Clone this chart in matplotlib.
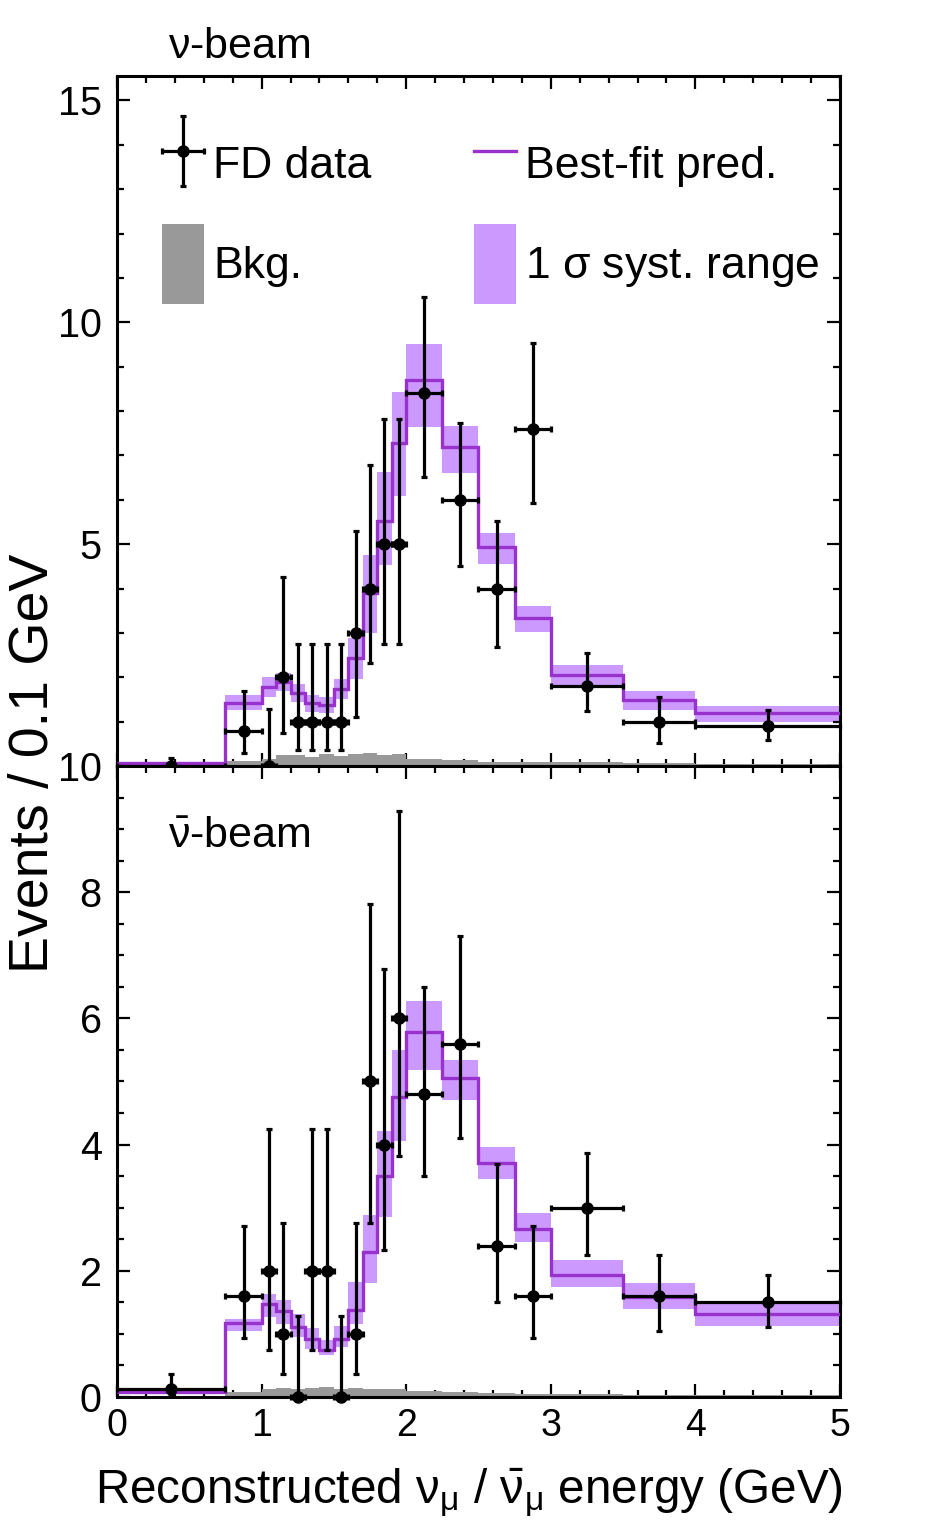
"""Far-detector reconstructed energy spectra for the nu and antinu beams."""

import matplotlib

matplotlib.use("Agg")
import matplotlib.pyplot as plt
import numpy as np
from matplotlib.legend_handler import HandlerErrorbar
from matplotlib.patches import Patch
from matplotlib.lines import Line2D
from matplotlib.ticker import MultipleLocator


plt.rcParams["font.family"] = ["Liberation Sans", "DejaVu Sans"]
plt.rcParams["mathtext.fontset"] = "custom"
plt.rcParams["mathtext.rm"] = "Liberation Sans"
plt.rcParams["mathtext.it"] = "Liberation Sans:italic"
plt.rcParams["mathtext.bf"] = "Liberation Sans:bold"

PRED_COLOR = "#9932CC"
BAND_COLOR = "#CC99FF"
BKG_COLOR = "#999999"

# bin edges (GeV)
edges = [0.0, 0.75, 1.0, 1.1, 1.2, 1.3, 1.4, 1.5, 1.6, 1.7, 1.8, 1.9, 2.0,
         2.25, 2.5, 2.75, 3.0, 3.5, 4.0, 5.0]

# nu-beam (events / 0.1 GeV)
nu_data = [0.0, 0.8, 0.0, 2.0, 1.0, 1.0, 1.0, 1.0, 3.0, 4.0, 5.0, 5.0, 8.4,
           6.0, 4.0, 7.6, 1.8, 1.0, 0.9]
nu_data_lo = [0.0, 0.30, 0.0, 0.74, 0.37, 0.37, 0.37, 0.37, 1.10, 2.33, 2.75,
              2.75, 6.51, 4.51, 2.69, 5.92, 1.24, 0.51, 0.59]
nu_data_hi = [0.17, 1.70, 1.29, 4.25, 2.75, 2.75, 2.75, 2.75, 5.30, 6.78, 7.81,
              7.81, 10.56, 7.74, 5.52, 9.54, 2.54, 1.55, 1.26]
nu_pred = [0.06, 1.43, 1.77, 1.90, 1.65, 1.41, 1.37, 1.73, 2.43, 3.89, 5.52,
           7.29, 8.69, 7.18, 4.94, 3.33, 2.05, 1.49, 1.19]
nu_band_lo = [0.03, 1.26, 1.55, 1.68, 1.45, 1.22, 1.20, 1.52, 1.95, 3.00, 4.53,
              6.09, 7.64, 6.61, 4.56, 3.01, 1.80, 1.26, 1.00]
nu_band_hi = [0.08, 1.60, 2.00, 2.10, 1.85, 1.60, 1.55, 1.95, 2.88, 4.75, 6.63,
              8.43, 9.50, 7.66, 5.26, 3.60, 2.27, 1.69, 1.35]
nu_bkg = [0.0, 0.12, 0.15, 0.24, 0.25, 0.21, 0.27, 0.22, 0.28, 0.30, 0.24,
          0.26, 0.16, 0.13, 0.10, 0.09, 0.08, 0.06, 0.05]

# antinu-beam (events / 0.1 GeV)
anu_data = [0.13, 1.6, 2.0, 1.0, 0.0, 2.0, 2.0, 0.0, 1.0, 5.0, 4.0, 6.0, 4.8,
            5.6, 2.4, 1.6, 3.0, 1.6, 1.5]
anu_data_lo = [0.05, 0.94, 0.74, 0.37, 0.0, 0.74, 0.74, 0.0, 0.37, 2.75, 2.33,
               3.82, 3.51, 4.10, 1.51, 0.94, 2.25, 1.04, 1.11]
anu_data_hi = [0.37, 2.71, 4.25, 2.75, 1.29, 4.25, 4.25, 1.29, 2.75, 7.81, 6.78,
               9.28, 6.49, 7.31, 3.70, 2.71, 3.86, 2.25, 1.93]
anu_pred = [0.08, 1.17, 1.48, 1.36, 1.11, 0.92, 0.75, 0.92, 1.38, 2.30, 3.50,
            4.76, 5.78, 5.05, 3.71, 2.67, 1.94, 1.58, 1.31]
anu_band_lo = [0.04, 1.04, 1.27, 1.15, 0.95, 0.76, 0.67, 0.80, 1.15, 1.80, 2.85,
               4.05, 5.18, 4.71, 3.45, 2.46, 1.75, 1.39, 1.13]
anu_band_hi = [0.12, 1.23, 1.64, 1.53, 1.32, 1.09, 0.91, 1.13, 1.82, 2.88, 4.21,
               5.50, 6.28, 5.34, 3.96, 2.91, 2.17, 1.81, 1.49]
anu_bkg = [0.0, 0.08, 0.13, 0.14, 0.13, 0.15, 0.16, 0.12, 0.14, 0.12, 0.13,
           0.12, 0.10, 0.08, 0.06, 0.05, 0.04, 0.03, 0.03]


def draw_panel(ax, data, data_lo, data_hi, pred, band_lo, band_hi, bkg):
    e = np.asarray(edges)
    centers = 0.5 * (e[:-1] + e[1:])
    half = 0.5 * np.diff(e)
    data = np.asarray(data)
    lo = np.asarray(band_lo)
    hi = np.asarray(band_hi)

    ax.bar(e[:-1], hi - lo, width=np.diff(e), bottom=lo, align="edge",
           color=BAND_COLOR, linewidth=0, zorder=1)
    ax.stairs(bkg, e, fill=True, color=BKG_COLOR, linewidth=0, zorder=2)
    ax.stairs(pred, e, color=PRED_COLOR, linewidth=2.4, baseline=None, zorder=3)
    yerr = [data - np.asarray(data_lo), np.asarray(data_hi) - data]
    eb = ax.errorbar(centers, data, xerr=half, yerr=yerr, fmt="o", color="black",
                     ms=8, elinewidth=2.3, capsize=2.5, capthick=2.3,
                     zorder=5, clip_on=False)
    for artist in eb.lines[1] + eb.lines[2]:
        artist.set_clip_on(False)

    ax.set_xlim(0, 5)
    ax.xaxis.set_major_locator(MultipleLocator(1))
    ax.xaxis.set_minor_locator(MultipleLocator(0.2))
    ax.tick_params(which="both", direction="in", top=True, right=True, width=1.6)
    ax.tick_params(which="major", length=9.5)
    ax.tick_params(which="minor", length=5)
    ax.tick_params(axis="y", pad=11, labelsize=28.5)
    ax.tick_params(axis="x", pad=8, labelsize=27)
    for spine in ax.spines.values():
        spine.set_linewidth(2.2)
    return eb


def main():
    fig = plt.figure(figsize=(9.36, 15.36), dpi=100)
    ax_top = fig.add_axes([0.125, 0.5013, 0.7724, 0.4492])
    ax_bot = fig.add_axes([0.125, 0.0905, 0.7724, 0.4108])

    eb = draw_panel(ax_top, nu_data, nu_data_lo, nu_data_hi, nu_pred,
                    nu_band_lo, nu_band_hi, nu_bkg)
    draw_panel(ax_bot, anu_data, anu_data_lo, anu_data_hi, anu_pred,
               anu_band_lo, anu_band_hi, anu_bkg)

    ax_top.set_ylim(0, 15.55)
    ax_top.yaxis.set_major_locator(MultipleLocator(5))
    ax_top.yaxis.set_minor_locator(MultipleLocator(1))
    ax_top.set_yticks([0, 5, 10, 15], ["", "5", "10", "15"])
    ax_top.tick_params(axis="x", labelbottom=False)

    ax_bot.set_ylim(0, 10)
    ax_bot.yaxis.set_major_locator(MultipleLocator(2))
    ax_bot.yaxis.set_minor_locator(MultipleLocator(0.5))

    ax_top.text(0.0705, 1.026, r"$\mathregular{\nu}$-beam", transform=ax_top.transAxes,
                fontsize=31, va="baseline", ha="left")
    ax_bot.text(0.0705, 0.870, r"$\mathregular{\bar{\nu}}$-beam", transform=ax_bot.transAxes,
                fontsize=31, va="baseline", ha="left")

    handles = [
        eb,
        Line2D([], [], color=PRED_COLOR, linewidth=2.4),
        Patch(facecolor=BKG_COLOR, linewidth=0),
        Patch(facecolor=BAND_COLOR, linewidth=0),
    ]
    labels = ["FD data", "Best-fit pred.", "Bkg.", r"1 $\mathregular{\sigma}$ syst. range"]
    # legend fills column by column, so reorder to get FD/Best-fit on the first row
    order = [0, 2, 1, 3]
    ax_top.legend([handles[i] for i in order], [labels[i] for i in order],
                  ncol=2, loc="upper left", bbox_to_anchor=(0.0622, 0.9304),
                  frameon=False, fontsize=32, handlelength=0.95, handleheight=2.39,
                  handletextpad=0.2, columnspacing=2.3, labelspacing=0.46,
                  borderpad=0, borderaxespad=0,
                  handler_map={eb: HandlerErrorbar(xerr_size=0.48, yerr_size=0.79)})

    fig.text(0.036, 0.503, "Events / 0.1 GeV", rotation=90, fontsize=40,
             ha="center", va="center")
    fig.text(0.501, 0.0215,
             r"Reconstructed $\mathregular{\nu_{\mu}}$ / $\mathregular{\bar{\nu}_{\mu}}$ energy (GeV)",
             fontsize=34.3, ha="center", va="baseline")

    fig.savefig("out.png", dpi=100)
    plt.close(fig)


if __name__ == "__main__":
    main()
